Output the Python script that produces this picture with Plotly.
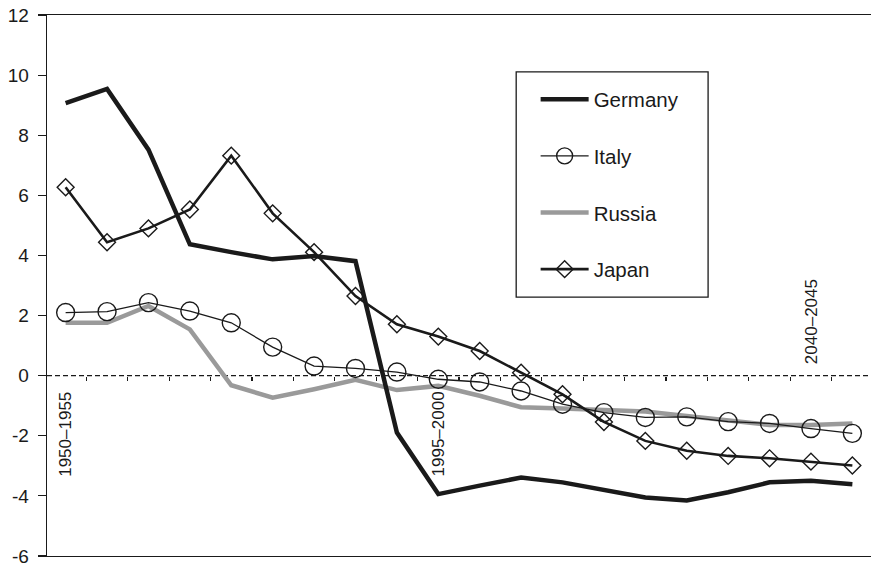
import plotly.graph_objects as go

periods = ["1950–1955", "1955–1960", "1960–1965", "1965–1970", "1970–1975",
           "1975–1980", "1980–1985", "1985–1990", "1990–1995", "1995–2000",
           "2000–2005", "2005–2010", "2010–2015", "2015–2020", "2020–2025",
           "2025–2030", "2030–2035", "2035–2040", "2040–2045", "2045–2050"]

germany = [9.07, 9.54, 7.52, 4.37, 4.11, 3.87, 3.98, 3.81, -1.89, -3.94,
           -3.66, -3.39, -3.55, -3.80, -4.05, -4.15, -3.88, -3.55, -3.50, -3.61]
italy = [2.10, 2.13, 2.43, 2.15, 1.76, 0.95, 0.32, 0.24, 0.12, -0.12,
         -0.21, -0.51, -0.95, -1.23, -1.39, -1.37, -1.53, -1.59, -1.76, -1.92]
russia = [1.76, 1.76, 2.32, 1.54, -0.32, -0.73, -0.45, -0.14, -0.48, -0.34,
          -0.67, -1.05, -1.09, -1.15, -1.19, -1.34, -1.50, -1.64, -1.64, -1.59]
japan = [6.27, 4.44, 4.90, 5.53, 7.32, 5.40, 4.11, 2.65, 1.71, 1.30,
         0.82, 0.10, -0.62, -1.54, -2.17, -2.50, -2.67, -2.75, -2.86, -2.99]

y_ticks = [-6, -4, -2, 0, 2, 4, 6, 8, 10, 12]
labels_below = ["1950–1955", "1995–2000"]
labels_above = ["2040–2045"]

FONT = "Liberation Sans, Arial, sans-serif"
INK = "#1a1a1a"

fig = go.Figure()
fig.add_trace(go.Scatter(x=periods, y=russia, name="Russia", mode="lines",
                         line=dict(color="#9a9a9a", width=4.5), legendrank=3,
                         legendgroup="r"))
fig.add_trace(go.Scatter(x=periods, y=germany, name="Germany", mode="lines",
                         line=dict(color=INK, width=4.5), legendrank=1,
                         legendgroup="g"))
fig.add_trace(go.Scatter(x=periods, y=japan, name="Japan", mode="lines+markers",
                         line=dict(color=INK, width=2.6),
                         marker=dict(symbol="diamond-open", size=13, color=INK,
                                     line=dict(width=1.4, color=INK)),
                         legendrank=4, legendgroup="j"))
fig.add_trace(go.Scatter(x=periods, y=italy, name="Italy", mode="lines+markers",
                         line=dict(color=INK, width=1.3),
                         marker=dict(symbol="circle-open", size=18, color=INK,
                                     line=dict(width=1.4, color=INK)),
                         legendrank=2, legendgroup="i"))

# dashed zero line
fig.add_shape(type="line", xref="x domain", yref="y", x0=0, x1=1, y0=0, y1=0,
              line=dict(color=INK, width=1.3, dash="5px,3px"), layer="below")
# legend frame
fig.add_shape(type="rect", xref="paper", yref="paper",
              x0=0.5694, x1=0.8023, y0=0.4785, y1=0.895,
              line=dict(color=INK, width=1.3), fillcolor="rgba(0,0,0,0)")

for lab in labels_below:
    fig.add_annotation(x=periods.index(lab), y=0, xref="x", yref="y", text=lab,
                       textangle=-90, showarrow=False, yanchor="top",
                       xanchor="center", yshift=-14,
                       font=dict(family=FONT, size=17, color=INK))
for lab in labels_above:
    fig.add_annotation(x=periods.index(lab), y=0, xref="x", yref="y", text=lab,
                       textangle=-90, showarrow=False, yanchor="bottom",
                       xanchor="center", yshift=10,
                       font=dict(family=FONT, size=17, color=INK))

fig.update_layout(
    width=871, height=567, autosize=False,
    margin=dict(l=47, r=0, t=15, b=9),
    paper_bgcolor="white", plot_bgcolor="white",
    font=dict(family=FONT, size=17, color=INK),
    showlegend=True, hovermode=False, dragmode=False,
    legend=dict(x=0.593, y=0.881, xanchor="left", yanchor="top",
                bgcolor="rgba(0,0,0,0)", borderwidth=0, itemwidth=48,
                tracegroupgap=27, font=dict(family=FONT, size=20.5, color=INK),
                traceorder="grouped"),
    xaxis=dict(range=[-0.45, 19.45], showticklabels=False, ticks="",
               showgrid=False, zeroline=False, showline=True, mirror=True,
               linecolor=INK, linewidth=1.3),
    xaxis2=dict(range=[-0.45, 19.45], overlaying="x", anchor="free",
                position=6 / 18, side="bottom", showline=False, showgrid=False,
                zeroline=False, ticks="outside", ticklen=4, tickwidth=1.2,
                tickcolor=INK, tickvals=[i + 0.5 for i in range(len(periods) - 1)],
                showticklabels=False),
    yaxis=dict(range=[-6, 12], tickvals=y_ticks, ticktext=[str(v) for v in y_ticks],
               ticks="outside", ticklen=8, tickwidth=1.2, tickcolor=INK,
               showgrid=False, zeroline=False, showline=True, mirror=False,
               linecolor=INK, linewidth=1.3, ticklabelstandoff=5,
               ticklabeloverflow="allow",
               tickfont=dict(family=FONT, size=19, color=INK)),
)

# invisible trace to activate xaxis2 ticks
fig.add_trace(go.Scatter(x=[], y=[], xaxis="x2", showlegend=False, hoverinfo="skip"))

fig.write_html("out.html", config={"staticPlot": True},
               post_script="document.body.style.margin='0';document.body.style.overflow='hidden';")
